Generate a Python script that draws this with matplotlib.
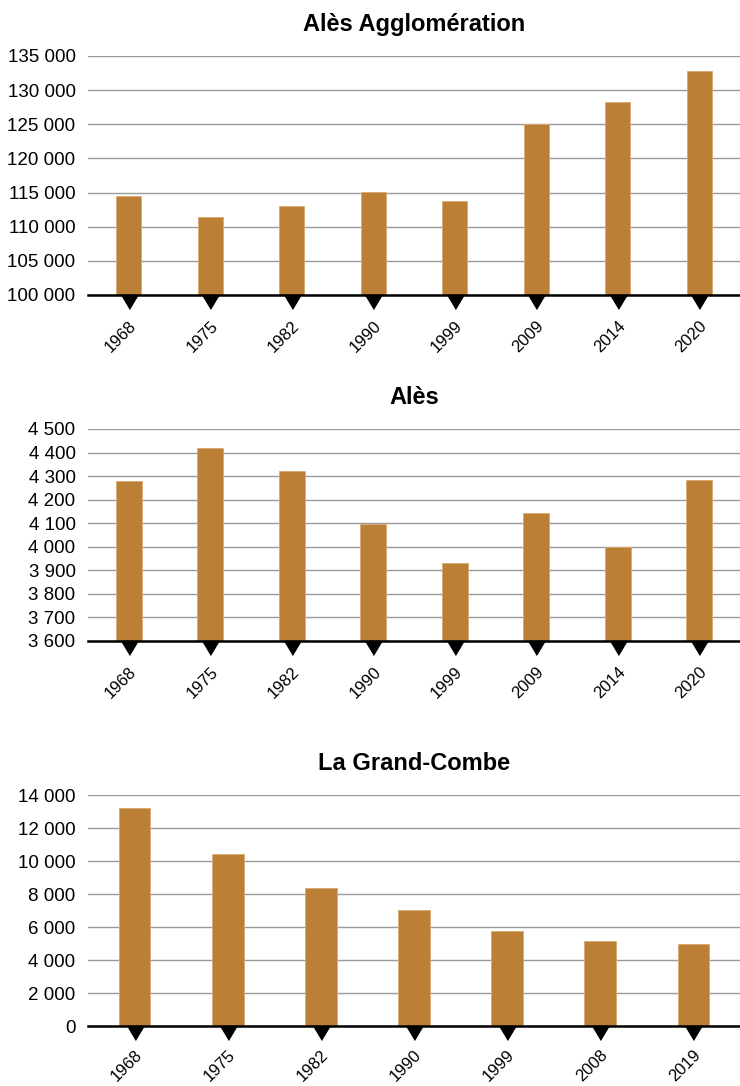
import matplotlib.pyplot as plt
from matplotlib.ticker import FuncFormatter, MultipleLocator
from matplotlib.transforms import ScaledTranslation

plt.rcParams['font.family'] = ['Liberation Sans', 'DejaVu Sans']

# Données
agglo_years = ['1968', '1975', '1982', '1990', '1999', '2009', '2014', '2020']
agglo_pop = [114500, 111400, 113000, 115050, 113700, 125000, 128200, 132850]

ales_years = ['1968', '1975', '1982', '1990', '1999', '2009', '2014', '2020']
ales_pop = [4278, 4418, 4322, 4098, 3933, 4142, 3998, 4284]

gc_years = ['1968', '1975', '1982', '1990', '1999', '2008', '2019']
gc_pop = [13240, 10420, 8355, 7060, 5766, 5160, 4997]

BAR_COLOR = '#BC7F36'
TRI = [(-0.6, 0), (0.6, 0), (0, -1)]


def milliers(v, pos):
    return f"{int(round(v)):,}".replace(",", " ")


def bar_chart(ax, fig, years, values, title, ymin, ymax, step, bar_w, lab_pad):
    x = list(range(len(years)))
    ax.bar(x, values, width=bar_w, bottom=0, color=BAR_COLOR,
           edgecolor='#D9A970', linewidth=0.6, zorder=3)
    ax.set_xlim(-0.5, len(years) - 0.5)
    ax.set_ylim(ymin, ymax)
    ax.yaxis.set_major_locator(MultipleLocator(step))
    ax.yaxis.set_major_formatter(FuncFormatter(milliers))
    ax.grid(axis='y', color='#9a9a9a', linewidth=1.0, zorder=0)
    ax.set_axisbelow(True)
    for s in ['top', 'right', 'left']:
        ax.spines[s].set_visible(False)
    ax.spines['bottom'].set_linewidth(1.8)
    ax.spines['bottom'].set_zorder(4)
    ax.tick_params(axis='y', length=0, pad=9, labelsize=13.5)
    ax.tick_params(axis='x', length=0, pad=lab_pad, labelsize=12)
    ax.set_xticks(x)
    ax.set_xticklabels(years, rotation=45, ha='right', rotation_mode='anchor')
    off = ScaledTranslation(0, 0, fig.dpi_scale_trans)
    for lab in ax.get_xticklabels():
        lab.set_transform(lab.get_transform() + off)
    # triangles sous l'axe
    ax.plot(x, [0] * len(x), linestyle='none', marker=TRI, markersize=20,
            color='black', transform=ax.get_xaxis_transform(), clip_on=False, zorder=5)
    ax.set_title(title, fontsize=17, fontweight='bold', pad=18)


fig = plt.figure(figsize=(7.4, 10.86), dpi=100)
ax1 = fig.add_axes([0.119, 0.7284, 0.881, 0.2201])
ax2 = fig.add_axes([0.119, 0.4098, 0.881, 0.1952])
ax3 = fig.add_axes([0.119, 0.0552, 0.881, 0.2127])

bar_chart(ax1, fig, agglo_years, agglo_pop, 'Alès Agglomération', 100000, 135000, 5000, 0.31, 17)
bar_chart(ax2, fig, ales_years, ales_pop, 'Alès', 3600, 4500, 100, 0.32, 17)
bar_chart(ax3, fig, gc_years, gc_pop, 'La Grand-Combe', 0, 14000, 2000, 0.34, 15)

fig.savefig('out.png', dpi=100)
